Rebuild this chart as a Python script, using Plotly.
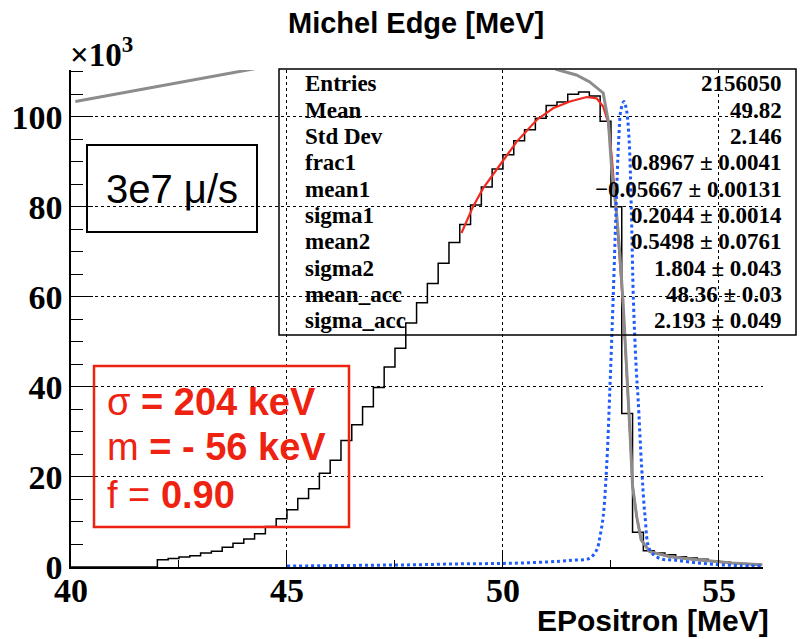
import numpy as np
import plotly.graph_objects as go

# ---------------- data (counts in units of 10^3) ----------------
bin_start = 40.0
bin_width = 0.25
hist_counts = [
    0, 0, 0, 0, 0, 0, 0, 0,
    1.6, 1.9, 2.2, 2.5, 3.1, 3.5, 4.4, 5.3,
    6.2, 7.4, 9.0, 10.7, 12.7, 15.2, 17.4, 20.8,
    23.7, 28.1, 31.6, 35.6, 39.9, 44.4, 48.6, 54.2,
    58.7, 63.0, 67.5, 72.1, 76.1, 80.4, 84.4, 88.4,
    91.6, 94.7, 97.1, 99.7, 102.5, 103.3, 105.0, 105.5,
    104.6, 99.0, 80.0, 34.1, 7.7, 3.6, 3.1, 2.7,
    2.3, 2.0, 1.7, 1.4, 1.1, 0.9, 0.7, 0.5,
]

fit_x = [49.04, 49.31, 49.54, 49.93, 50.32, 50.78, 51.16, 51.55, 51.94, 52.17,
         52.32, 52.44, 52.52, 52.63, 52.71, 52.78, 52.94, 53.0, 53.1, 53.2,
         53.4, 53.87, 54.5, 55.3, 56.0]
fit_y = [74.2, 80.1, 84.1, 89.3, 94.5, 99.3, 101.9, 103.4, 104.4, 104.1,
         102.3, 98.6, 91.0, 78.0, 68.0, 58.0, 30.0, 18.0, 11.0, 6.0,
         3.4, 2.3, 1.6, 0.9, 0.5]

gray_x = [40.1, 41.0, 42.0, 43.0, 44.0, 45.0, 46.5, 48.0, 49.5, 50.5, 51.0,
          51.25, 51.7, 52.0, 52.32, 52.44, 52.52, 52.63, 52.71, 52.78, 52.94,
          53.0, 53.1, 53.2, 53.4, 53.87, 54.5, 55.3, 56.0]
gray_y = [103.4, 105.0, 106.7, 108.4, 110.2, 112.0, 114.0, 115.0, 114.5, 113.0, 111.6,
          110.5, 109.3, 107.8, 105.3, 99.0, 88.0, 78.6, 69.0, 59.0, 30.0,
          18.0, 11.0, 6.0, 3.4, 2.3, 1.6, 0.9, 0.5]

acc_x = [45.0, 46.0, 47.0, 48.0, 49.0, 50.0, 51.0, 51.6, 52.0, 52.17, 52.25, 52.32,
         52.4, 52.48, 52.55, 52.62, 52.68, 52.73, 52.8, 52.86, 52.92, 52.97, 53.02,
         53.08, 53.13, 53.21, 53.29, 53.4, 53.63, 54.0, 54.5, 55.0, 55.5, 56.0]
acc_y = [0.2, 0.3, 0.4, 0.5, 0.7, 0.8, 1.1, 1.5, 1.9, 3.8, 7.0, 11.2,
         22.3, 40.8, 59.3, 80.0, 95.0, 101.5, 103.4, 101.5, 95.0, 80.0, 59.3,
         45.0, 37.1, 22.3, 11.2, 3.8, 1.9, 1.5, 0.9, 0.5, 0.3, 0.2]

stat_labels = ["Entries", "Mean", "Std Dev", "frac1", "mean1", "sigma1",
               "mean2", "sigma2", "mean_acc", "sigma_acc"]
stat_values = ["2156050", "49.82", "2.146", "0.8967 \u00b1 0.0041",
               "\u22120.05667 \u00b1 0.00131", "0.2044 \u00b1 0.0014",
               "0.5498 \u00b1 0.0761", "1.804 \u00b1 0.043",
               "48.36 \u00b1 0.03", "2.193 \u00b1 0.049"]

x_ticks = [40, 45, 50, 55]
y_ticks = [0, 20, 40, 60, 80, 100]

# ---------------- figure ----------------
W, H = 805, 639
L, R, T, B = 71, 42, 70, 72
PW, PH = W - L - R, H - T - B


def px(x):
    return (x - L) / PW


def py(y):
    return (H - B - y) / PH


edges = bin_start + bin_width * np.arange(len(hist_counts) + 1)
hx = list(edges)
hy = list(hist_counts) + [hist_counts[-1]]

fig = go.Figure()
fig.add_trace(go.Scatter(x=hx, y=hy, mode="lines", line=dict(color="black", width=1.5, shape="hv"),
                         hoverinfo="skip"))
fig.add_trace(go.Scatter(x=fit_x, y=fit_y, mode="lines", line=dict(color="#f02a1e", width=2.2),
                         hoverinfo="skip"))
fig.add_trace(go.Scatter(x=gray_x, y=gray_y, mode="lines", line=dict(color="#8c8c8c", width=3),
                         hoverinfo="skip"))
fig.add_trace(go.Scatter(x=acc_x, y=acc_y, mode="lines",
                         line=dict(color="#1f5bff", width=3, dash="dot", shape="spline"),
                         hoverinfo="skip"))

tick_font = dict(family="Liberation Serif", size=34, color="black", weight="bold")

fig.update_xaxes(range=[40, 56.02], tickvals=x_ticks, ticktext=[str(v) for v in x_ticks],
                 ticks="inside", ticklen=15, tickwidth=1.2, tickcolor="black",
                 showline=True, linecolor="black", linewidth=1.5, mirror=False,
                 showgrid=True, gridcolor="black", gridwidth=1, griddash="dot",
                 zeroline=False, tickfont=tick_font, ticklabelstandoff=-8,
                 minor=dict(dtick=2.5, tick0=40, ticks="inside", ticklen=7, tickcolor="black",
                            showgrid=False))
fig.update_yaxes(range=[0, 110.4], tickvals=y_ticks, ticktext=[str(v) for v in y_ticks],
                 ticks="inside", ticklen=22, tickwidth=1.2, tickcolor="black",
                 showline=True, linecolor="black", linewidth=1.5, mirror=False,
                 showgrid=True, gridcolor="black", gridwidth=1, griddash="dot",
                 zeroline=False, tickfont=tick_font,
                 minor=dict(dtick=5, tick0=0, ticks="inside", ticklen=12, tickcolor="black",
                            showgrid=False))

shapes = []
# stats box
shapes.append(dict(type="rect", xref="paper", yref="paper", x0=px(279), x1=px(796),
                   y0=py(335), y1=py(69), line=dict(color="black", width=1.5),
                   fillcolor="rgba(0,0,0,0)", layer="above"))
# 3e7 box
shapes.append(dict(type="rect", xref="paper", yref="paper", x0=px(87), x1=px(257),
                   y0=py(232), y1=py(145), line=dict(color="black", width=2),
                   fillcolor="rgba(0,0,0,0)", layer="above"))
# red box
shapes.append(dict(type="rect", xref="paper", yref="paper", x0=px(94), x1=px(349),
                   y0=py(527), y1=py(366), line=dict(color="#ee2211", width=2.5),
                   fillcolor="rgba(0,0,0,0)", layer="above"))

annotations = []
annotations.append(dict(text="<b>Michel Edge [MeV]</b>", xref="paper", yref="paper",
                        x=px(416), y=py(23), xanchor="center", yanchor="middle", showarrow=False,
                        font=dict(family="Liberation Sans", size=29, color="black")))
annotations.append(dict(text="<b>EPositron [MeV]</b>", xref="paper", yref="paper",
                        x=px(771), y=py(620), xanchor="right", yanchor="middle", showarrow=False,
                        font=dict(family="Liberation Sans", size=30, color="black")))
annotations.append(dict(text="<b>\u00d710<sup>3</sup></b>", xref="paper", yref="paper",
                        x=px(68), y=py(52), xanchor="left", yanchor="middle", showarrow=False,
                        font=dict(family="Liberation Serif", size=33, color="black")))
annotations.append(dict(text="3e7 \u03bc/s", xref="paper", yref="paper",
                        x=px(172), y=py(189), xanchor="center", yanchor="middle", showarrow=False,
                        font=dict(family="Liberation Sans", size=40, color="black")))

red_lines = ["\u03c3 <b>= 204 keV</b>", "m <b>= - 56 keV</b>", "f = <b>0.90</b>"]
red_ys = [402, 447, 495]
for t, yy in zip(red_lines, red_ys):
    annotations.append(dict(text=t, xref="paper", yref="paper", x=px(105), y=py(yy),
                            xanchor="left", yanchor="middle", showarrow=False,
                            font=dict(family="Liberation Sans", size=38, color="#ee2211")))

row0, drow = 84, 26.3
for i, (lab, val) in enumerate(zip(stat_labels, stat_values)):
    yy = row0 + i * drow
    annotations.append(dict(text="<b>" + lab + "</b>", xref="paper", yref="paper",
                            x=px(303), y=py(yy), xanchor="left", yanchor="middle",
                            showarrow=False,
                            font=dict(family="Liberation Serif", size=23, color="black")))
    annotations.append(dict(text="<b>" + val + "</b>", xref="paper", yref="paper",
                            x=px(784), y=py(yy), xanchor="right", yanchor="middle",
                            showarrow=False,
                            font=dict(family="Liberation Serif", size=23, color="black")))

fig.update_layout(width=W, height=H, margin=dict(l=L, r=R, t=T, b=B, pad=0),
                  paper_bgcolor="white", plot_bgcolor="white", showlegend=False,
                  shapes=shapes, annotations=annotations)

fig.write_html("out.html")
